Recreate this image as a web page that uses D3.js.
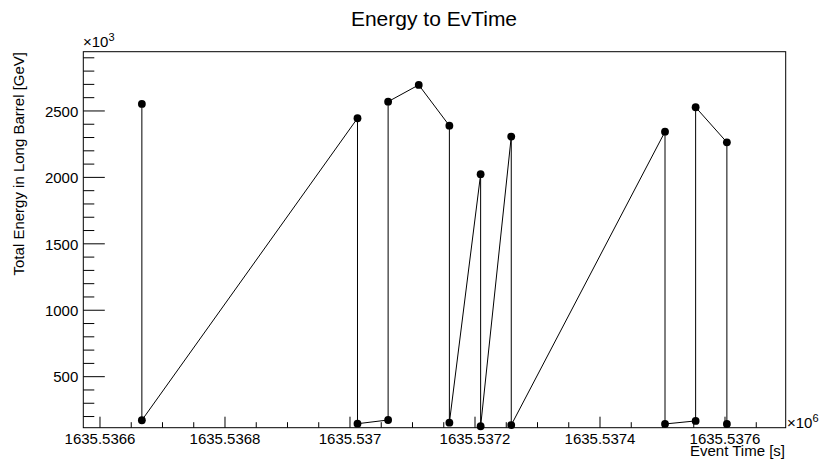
<!DOCTYPE html>
<html>
<head>
<meta charset="utf-8">
<script src="https://cdn.jsdelivr.net/npm/d3@7"></script>
<style>
  body { margin: 0; background: #fff; }
  text { font-family: "Liberation Sans", Arial, Helvetica, sans-serif; fill: #000; }
</style>
</head>
<body>
<svg id="chart" width="819" height="459"></svg>
<script>
// event time [s] and total energy [x10^3 GeV], in graph order
const evTime = [1635536667, 1635536667, 1635537012, 1635537012, 1635537061, 1635537061,
  1635537110, 1635537159, 1635537159, 1635537209, 1635537209, 1635537258, 1635537258,
  1635537504, 1635537504, 1635537553, 1635537553, 1635537603, 1635537603];
const energy = [2553, 172, 2445, 146, 174, 2570,
  2696, 2389, 154, 2024, 127, 2307, 136,
  2344, 144, 167, 2528, 2264, 144];

const xTicks = [1635536600, 1635536800, 1635537000, 1635537200, 1635537400, 1635537600];
const xTickLabels = ["1635.5366", "1635.5368", "1635.537", "1635.5372", "1635.5374", "1635.5376"];
const yTicks = [500, 1000, 1500, 2000, 2500];
const yTickLabels = ["500", "1000", "1500", "2000", "2500"];

const margin = { top: 51.7, right: 33.3, bottom: 31.3, left: 83.3 },
  W = 819, H = 459,
  w = W - margin.left - margin.right,
  h = H - margin.top - margin.bottom;

const svg = d3.select("#chart");
svg.append("rect").attr("width", W).attr("height", H).attr("fill", "#fff");

const g = svg.append("g").attr("transform", `translate(${margin.left},${margin.top})`);

const x = d3.scaleLinear().domain([1635536573.3, 1635537697.1]).range([0, w]);
const y = d3.scaleLinear().domain([116, 2946]).range([h, 0]);

// minor ticks
const xMinor = d3.range(1635536600, 1635537697, 50);
const yMinor = d3.range(200, 2946, 100);

g.selectAll(".xminor").data(xMinor).join("line")
  .attr("x1", d => x(d)).attr("x2", d => x(d))
  .attr("y1", h).attr("y2", d => xTicks.includes(d) ? h - 11 : h - 5.5)
  .attr("stroke", "#000").attr("stroke-width", 1);

g.selectAll(".yminor").data(yMinor).join("line")
  .attr("y1", d => y(d)).attr("y2", d => y(d))
  .attr("x1", 0).attr("x2", d => yTicks.includes(d) ? 21.5 : 11)
  .attr("stroke", "#000").attr("stroke-width", 1);

// tick labels
g.selectAll(".xlab").data(xTicks).join("text")
  .attr("x", d => x(d)).attr("y", h + 16.5)
  .attr("text-anchor", "middle").attr("font-size", 15)
  .text((d, i) => xTickLabels[i]);

g.selectAll(".ylab").data(yTicks).join("text")
  .attr("x", -5).attr("y", d => y(d) + 5.8)
  .attr("text-anchor", "end").attr("font-size", 15)
  .text((d, i) => yTickLabels[i]);

// frame
g.append("rect").attr("width", w).attr("height", h)
  .attr("fill", "none").attr("stroke", "#000").attr("stroke-width", 1);

// graph
const line = d3.line().x((d, i) => x(evTime[i])).y(d => y(d));
g.append("path").datum(energy)
  .attr("d", line).attr("fill", "none").attr("stroke", "#000").attr("stroke-width", 1);

g.selectAll(".pt").data(energy).join("circle")
  .attr("cx", (d, i) => x(evTime[i])).attr("cy", d => y(d))
  .attr("r", 3.9).attr("fill", "#000");

// exponents
const e3 = svg.append("text").attr("x", 83).attr("y", 47).attr("font-size", 15);
e3.append("tspan").text("×10");
e3.append("tspan").attr("dy", -6).attr("font-size", 11).text("3");

const e6 = svg.append("text").attr("x", 787).attr("y", 428).attr("font-size", 15);
e6.append("tspan").text("×10");
e6.append("tspan").attr("dy", -6).attr("font-size", 11).text("6");

// titles
svg.append("text").attr("x", 434).attr("y", 26)
  .attr("text-anchor", "middle").attr("font-size", 21)
  .text("Energy to EvTime");

svg.append("text").attr("x", 785).attr("y", 456)
  .attr("text-anchor", "end").attr("font-size", 15)
  .text("Event Time [s]");

svg.append("text")
  .attr("transform", "translate(24,52) rotate(-90)")
  .attr("text-anchor", "end").attr("font-size", 15)
  .text("Total Energy in Long Barrel [GeV]");
</script>
</body>
</html>
